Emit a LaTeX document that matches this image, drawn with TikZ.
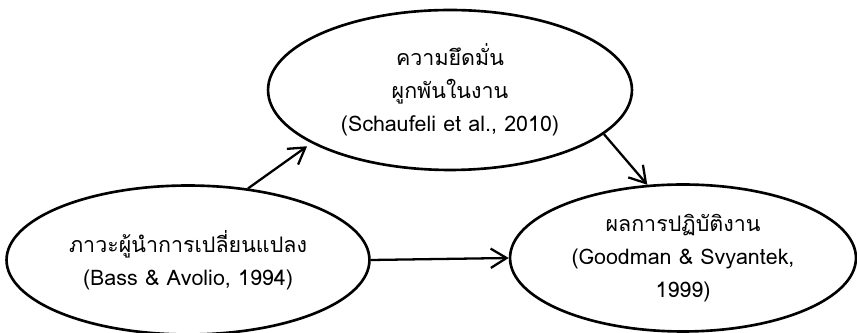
\documentclass[tikz,border=0pt]{standalone}
\usepackage{fontspec}
\newfontfamily\thaifont[Script=Thai]{Loma}
\usetikzlibrary{shapes.geometric,arrows.meta}

\begin{document}
\begin{tikzpicture}[x=0.02cm,y=-0.02cm,
  oval/.style={ellipse,draw=black,line width=1.5pt,inner sep=0pt,align=center,
    font=\thaifont\fontsize{12.2}{18.8}\selectfont},
  link/.style={draw=black,line width=1.3pt,-{Straight Barb[length=9pt,width=11pt,line width=1.3pt]}}]
\useasboundingbox (0,0) rectangle (857,333);
\clip (0,0) rectangle (857,333);
\node[oval,minimum width=7.28cm,minimum height=3.2cm] (eng) at (450,90) {ความยึดมั่น\\ผูกพันในงาน\\(Schaufeli et al., 2010)};
\node[oval,minimum width=7.26cm,minimum height=2.98cm] (lead) at (188,260) {ภาวะผู้นำการเปลี่ยนแปลง\\(Bass \& Avolio, 1994)};
\node[oval,minimum width=6.92cm,minimum height=2.94cm] (perf) at (683,258) {ผลการปฏิบัติงาน\\(Goodman \& Svyantek,\\1999)};
\draw[link,shorten >=3pt] (lead.50) -- (eng.201);
\draw[link] (eng.-16) -- (perf.116);
\draw[link] (lead.east) -- (perf.west);
\end{tikzpicture}
\end{document}
